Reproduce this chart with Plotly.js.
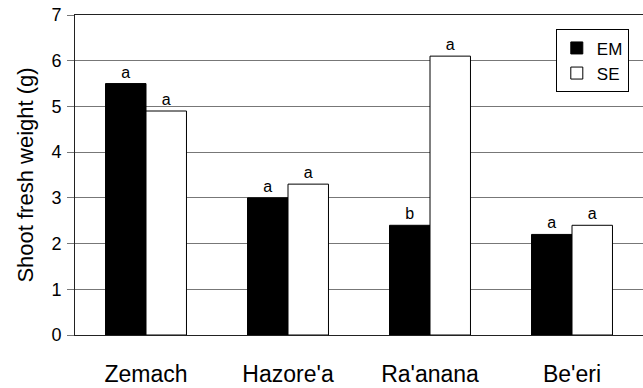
<!DOCTYPE html>
<html>
<head>
<meta charset="utf-8">
<script src="https://cdn.plot.ly/plotly-3.0.1.min.js"></script>
<style>html,body{margin:0;padding:0;background:#fff;}#chart{width:643px;height:388px;}</style>
</head>
<body>
<div id="chart"></div>
<script>
const categories = ["Zemach", "Hazore'a", "Ra'anana", "Be'eri"];
const emValues = [5.5, 3.0, 2.4, 2.2];
const seValues = [4.9, 3.3, 6.1, 2.4];
const emLetters = ["a", "a", "b", "a"];
const seLetters = ["a", "a", "a", "a"];
const yTicks = [0, 1, 2, 3, 4, 5, 6, 7];

const font = "Liberation Sans, Arial, sans-serif";

const traces = [
  {
    type: "bar", name: "EM", x: categories, y: emValues,
    text: emLetters, textposition: "outside", cliponaxis: false,
    textfont: {family: font, size: 16, color: "#000"},
    marker: {color: "#000", line: {color: "#000", width: 1}}
  },
  {
    type: "bar", name: "SE", x: categories, y: seValues,
    text: seLetters, textposition: "outside", cliponaxis: false,
    textfont: {family: font, size: 16, color: "#000"},
    marker: {color: "#fff", line: {color: "#000", width: 1}}
  }
];

const layout = {
  width: 643, height: 388,
  margin: {l: 75, r: 0, t: 15, b: 53},
  paper_bgcolor: "#fff", plot_bgcolor: "#fff",
  font: {family: font, color: "#000"},
  barmode: "group", bargap: 0.43, bargroupgap: 0,
  showlegend: true,
  legend: {
    x: 0.975, xanchor: "right", y: 0.955, yanchor: "top",
    bgcolor: "#fff", bordercolor: "#000", borderwidth: 1,
    font: {family: font, size: 17, color: "#000"},
    tracegroupgap: 0, itemwidth: 30
  },
  xaxis: {
    type: "category",
    showline: true, mirror: true, linecolor: "#222", linewidth: 1,
    ticks: "", showgrid: false,
    tickfont: {family: font, size: 23, color: "#000"},
    ticklabelstandoff: 18
  },
  yaxis: {
    range: [0, 7], tickvals: yTicks, ticktext: yTicks.map(String),
    showline: true, linecolor: "#222", linewidth: 1,
    ticks: "outside", ticklen: 7, tickcolor: "#777",
    showgrid: true, gridcolor: "#777", gridwidth: 1,
    zeroline: false,
    tickfont: {family: font, size: 18, color: "#000"},
    ticklabelstandoff: 2,
    title: {text: "Shoot fresh weight (g)", font: {family: font, size: 22, color: "#000"}, standoff: 11}
  }
};

Plotly.newPlot("chart", traces, layout, {displayModeBar: false, staticPlot: true});
</script>
</body>
</html>
